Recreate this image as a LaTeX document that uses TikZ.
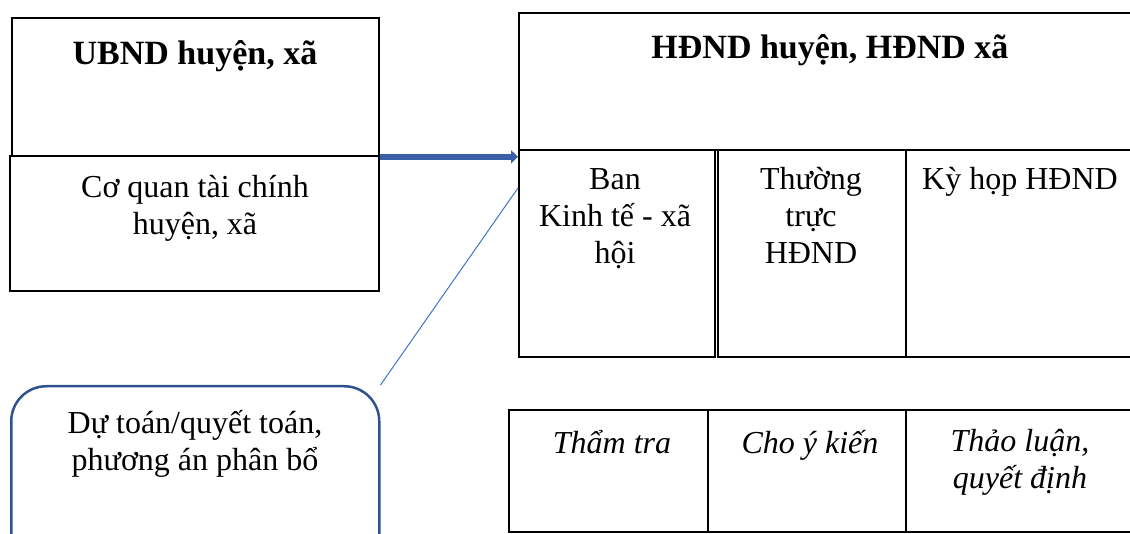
\documentclass[tikz,border=0pt]{standalone}
\usepackage{fontspec}
\setmainfont{Liberation Serif}
\usetikzlibrary{arrows.meta}
\definecolor{arrowblue}{RGB}{59,94,168}
\definecolor{lineblue}{RGB}{68,114,196}
\definecolor{calloutblue}{RGB}{47,82,143}
\newcommand{\tstrut}{\rule{0pt}{31pt}}
\begin{document}
\begin{tikzpicture}[x=1pt,y=-1pt,
  box/.style={draw=black, line width=1.8pt, inner sep=0pt, anchor=north west},
  txt/.style={inner sep=0pt, anchor=north, align=center, font=\fontsize{32}{37}\selectfont},
  btxt/.style={inner sep=0pt, anchor=north, align=center, font=\fontsize{34}{40}\selectfont\bfseries},
  itxt/.style={txt, font=\fontsize{32}{37}\selectfont\itshape},
  callout/.style={draw=calloutblue, line width=2.5pt, rounded corners=35pt, inner sep=0pt, anchor=north west},
  bigarrow/.style={draw=arrowblue, line width=6pt, -{Triangle[length=7pt,width=13pt]}},
  thinline/.style={draw=lineblue, line width=1pt}
]
\useasboundingbox (0,0) rectangle (1130,534);
\clip (0,0) rectangle (1130,534);
% left boxes
\node[box, minimum width=367pt, minimum height=138pt] (ubnd) at (11,17) {};
\node[box, minimum width=369pt, minimum height=135pt] (cqtc) at (9,155) {};
% right top
\node[box, minimum width=700pt, minimum height=137pt] (hdnd) at (518,12) {};
\node[box, minimum width=196pt, minimum height=207pt] (ban) at (518,149) {};
\node[box, minimum width=188pt, minimum height=207pt] (tt) at (717,149) {};
\node[box, minimum width=300pt, minimum height=207pt] (kyhop) at (905,149) {};
% bottom row
\node[box, minimum width=199pt, minimum height=122pt] (thamtra) at (508,409) {};
\node[box, minimum width=198pt, minimum height=122pt] (choykien) at (707,409) {};
\node[box, minimum width=300pt, minimum height=122pt] (thaoluan) at (905,409) {};
% callout
\node[callout, minimum width=368pt, minimum height=185pt] (note) at (10,385) {};
% texts
\node[btxt] (t-ubnd) at (195,33) {\tstrut UBND huyện, xã};
\node[btxt] (t-hdnd) at (830,27) {\tstrut HĐND huyện, HĐND xã};
\node[txt] (t-cqtc) at (195,166) {\tstrut Cơ quan tài chính\\huyện, xã};
\node[txt] (t-ban) at (615,158) {\tstrut Ban\\Kinh tế - xã\\hội};
\node[txt] (t-tt) at (811,158) {\tstrut Thường\\trực\\HĐND};
\node[txt] (t-ky) at (1020,158) {\tstrut Kỳ họp HĐND};
\node[itxt] (t-tham) at (612,422) {\tstrut Thẩm tra};
\node[itxt] (t-cho) at (810,422) {\tstrut Cho ý kiến};
\node[itxt] (t-thao) at (1020,420) {\tstrut Thảo luận,\\quyết định};
\node[txt] (t-note) at (195,402) {\tstrut Dự toán/quyết toán,\\phương án phân bổ};
% connectors
\draw[bigarrow] (ubnd.south east) -- (ubnd.south east -| hdnd.west);
\coordinate (banpt) at (518,188);
\draw[thinline] (note.north east) -- (banpt);
\end{tikzpicture}
\end{document}
